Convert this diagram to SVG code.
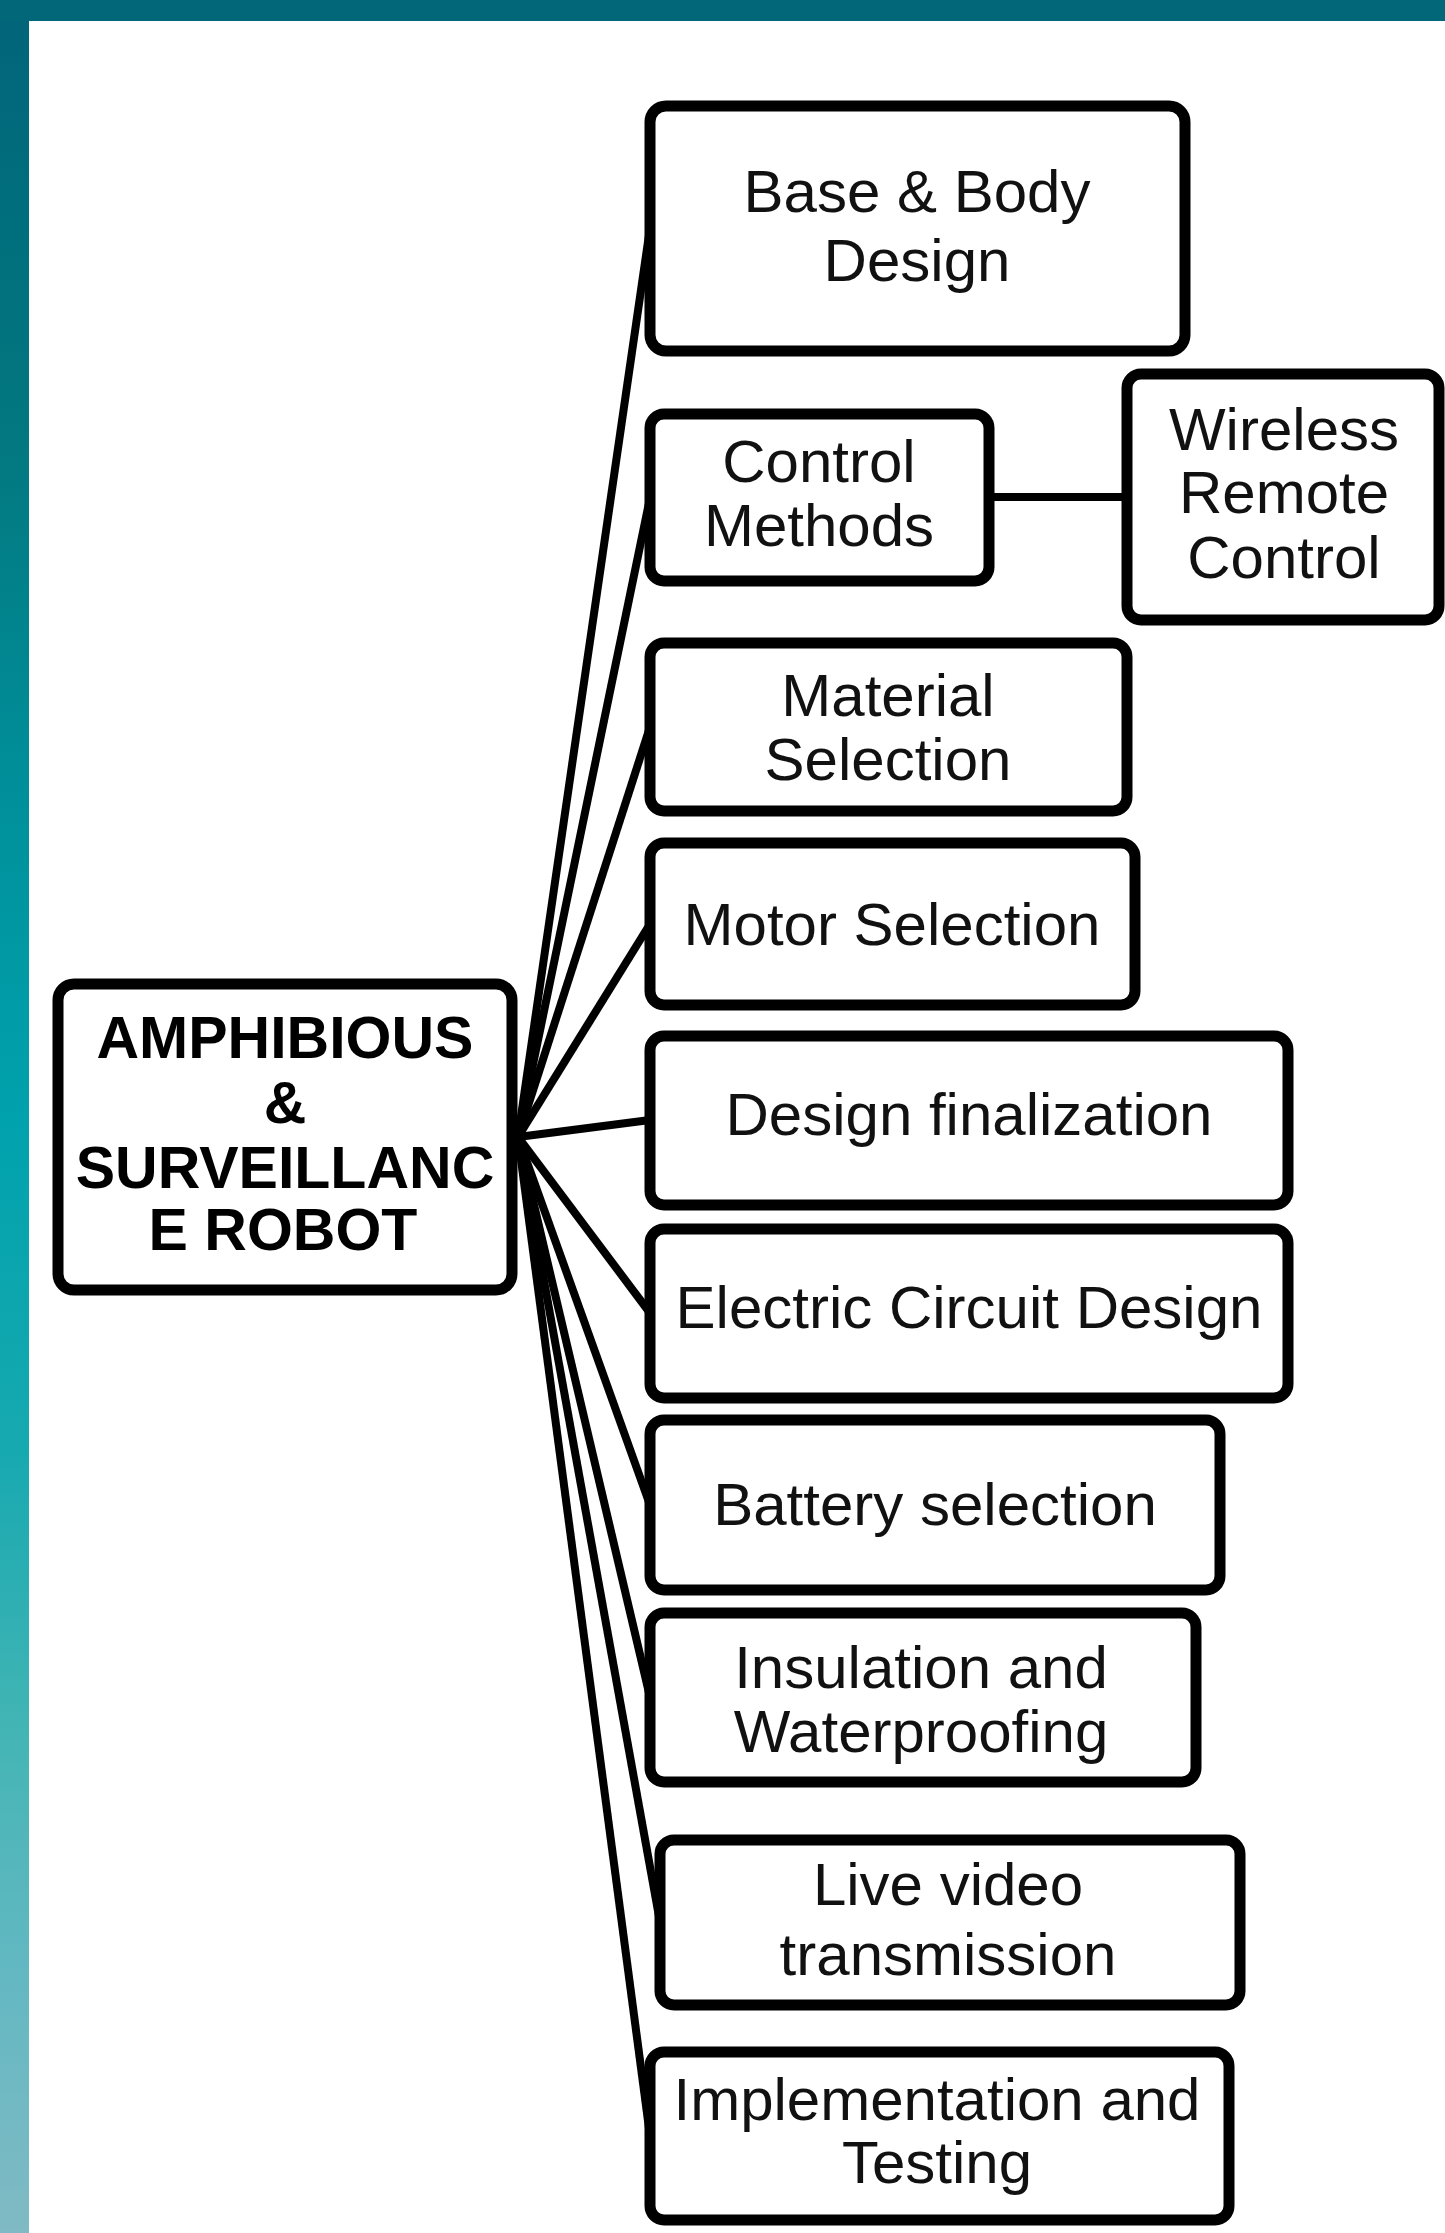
<svg xmlns="http://www.w3.org/2000/svg" width="1445" height="2233" viewBox="0 0 1445 2233">
  <defs>
    <linearGradient id="leftBand" x1="0" y1="0" x2="0" y2="1">
      <stop offset="0" stop-color="#03647a"/>
      <stop offset="0.1" stop-color="#006f7d"/>
      <stop offset="0.2" stop-color="#037880"/>
      <stop offset="0.35" stop-color="#008f9a"/>
      <stop offset="0.5" stop-color="#00a2ad"/>
      <stop offset="0.65" stop-color="#17a9b0"/>
      <stop offset="0.78" stop-color="#45b5b5"/>
      <stop offset="0.88" stop-color="#62b8c2"/>
      <stop offset="1" stop-color="#80bac4"/>
    </linearGradient>
    <style>
      .box { fill: #ffffff; stroke: #000000; stroke-width: 11; }
      .lbl { font-family: "Liberation Sans", Arial, sans-serif; font-size: 60px; fill: #111111; text-anchor: middle; }
      .main { font-family: "Liberation Sans", Arial, sans-serif; font-size: 59px; font-weight: bold; fill: #000000; text-anchor: middle; }
      .conn { stroke: #000000; stroke-width: 8; fill: none; stroke-linecap: butt; }
    </style>
  </defs>

  <!-- background frame -->
  <rect x="0" y="0" width="1445" height="2233" fill="#ffffff"/>
  <rect x="0" y="0" width="29" height="2233" fill="url(#leftBand)"/>
  <rect x="0" y="0" width="1445" height="21" fill="#03677a"/>

  <!-- connectors -->
  <g id="connectors">
    <line class="conn" x1="518" y1="1137" x2="650" y2="228"/>
    <line class="conn" x1="518" y1="1137" x2="650" y2="498"/>
    <line class="conn" x1="518" y1="1137" x2="650" y2="727"/>
    <line class="conn" x1="518" y1="1137" x2="650" y2="924"/>
    <line class="conn" x1="518" y1="1137" x2="650" y2="1120"/>
    <line class="conn" x1="518" y1="1137" x2="650" y2="1313"/>
    <line class="conn" x1="518" y1="1137" x2="650" y2="1505"/>
    <line class="conn" x1="518" y1="1137" x2="650" y2="1697"/>
    <line class="conn" x1="518" y1="1137" x2="660" y2="1922"/>
    <line class="conn" x1="518" y1="1137" x2="650" y2="2136"/>
    <line class="conn" x1="989" y1="497" x2="1127" y2="497"/>
  </g>

  <!-- central node -->
  <g id="node-robot">
    <rect class="box" x="58" y="984" width="454" height="306" rx="16"/>
    <text class="main" x="285" y="1058">AMPHIBIOUS</text>
    <text class="main" x="285" y="1123">&amp;</text>
    <text class="main" x="285" y="1188">SURVEILLANC</text>
    <text class="main" x="283" y="1250">E ROBOT</text>
  </g>

  <g id="node-base">
    <rect class="box" x="650" y="106" width="535" height="245" rx="16"/>
    <text class="lbl" x="917" y="212">Base &amp; Body</text>
    <text class="lbl" x="917" y="281">Design</text>
  </g>

  <g id="node-control">
    <rect class="box" x="650" y="414" width="339" height="167" rx="14"/>
    <text class="lbl" x="819" y="482">Control</text>
    <text class="lbl" x="819" y="546">Methods</text>
  </g>

  <g id="node-wireless">
    <rect class="box" x="1127" y="374" width="312" height="246" rx="14"/>
    <text class="lbl" x="1284" y="450">Wireless</text>
    <text class="lbl" x="1284" y="513">Remote</text>
    <text class="lbl" x="1284" y="578">Control</text>
  </g>

  <g id="node-material">
    <rect class="box" x="650" y="643" width="477" height="168" rx="14"/>
    <text class="lbl" x="888" y="716">Material</text>
    <text class="lbl" x="888" y="780">Selection</text>
  </g>

  <g id="node-motor">
    <rect class="box" x="650" y="843" width="485" height="162" rx="14"/>
    <text class="lbl" x="892" y="945">Motor Selection</text>
  </g>

  <g id="node-design">
    <rect class="box" x="650" y="1036" width="638" height="169" rx="14"/>
    <text class="lbl" x="969" y="1135">Design finalization</text>
  </g>

  <g id="node-electric">
    <rect class="box" x="650" y="1229" width="638" height="169" rx="14"/>
    <text class="lbl" x="969" y="1328">Electric Circuit Design</text>
  </g>

  <g id="node-battery">
    <rect class="box" x="650" y="1420" width="570" height="170" rx="14"/>
    <text class="lbl" x="935" y="1525">Battery selection</text>
  </g>

  <g id="node-insulation">
    <rect class="box" x="650" y="1613" width="546" height="169" rx="14"/>
    <text class="lbl" x="921" y="1688">Insulation and</text>
    <text class="lbl" x="921" y="1752">Waterproofing</text>
  </g>

  <g id="node-live">
    <rect class="box" x="660" y="1840" width="580" height="165" rx="14"/>
    <text class="lbl" x="948" y="1905">Live video</text>
    <text class="lbl" x="948" y="1975">transmission</text>
  </g>

  <g id="node-implementation">
    <rect class="box" x="650" y="2052" width="579" height="168" rx="14"/>
    <text class="lbl" x="937" y="2120">Implementation and</text>
    <text class="lbl" x="937" y="2183">Testing</text>
  </g>
</svg>
